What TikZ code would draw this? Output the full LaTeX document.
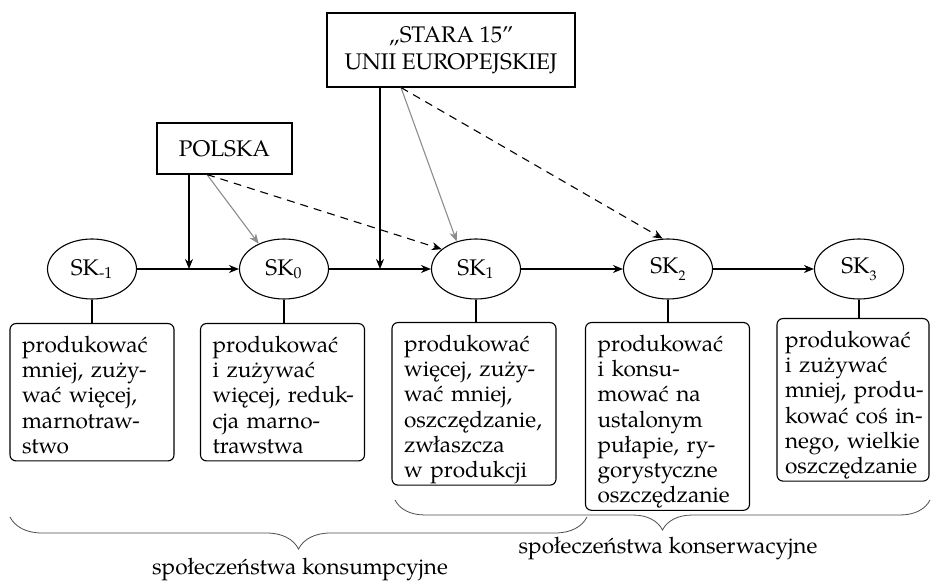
\documentclass[tikz,border=0pt]{standalone}
\usepackage{fontspec}
\setmainfont{texgyrepagella-regular.otf}
\usetikzlibrary{shapes.geometric,arrows.meta,decorations.pathreplacing}

\begin{document}
\begin{tikzpicture}[x=0.5pt,y=-0.5pt,line width=0.55pt]
   \tikzstyle{every node}=[font=\fontsize{11.3}{12.6}\selectfont]
   \tikzstyle{stage}=[draw, ellipse, minimum width=44.5pt, minimum height=30pt, inner sep=0pt]
   \tikzstyle{desc}=[draw, rounded corners=3pt, anchor=north, text width=70pt, inner xsep=6pt, inner ysep=0pt, align=left, execute at begin node=\rule{0pt}{14.5pt}, execute at end node=\strut]
   \tikzstyle{country}=[draw, rectangle, align=center, inner sep=0pt]
   \tikzstyle{flow}=[-{Stealth[length=5pt,width=4pt]}]
   \tikzstyle{weak}=[flow, black!45]
   \tikzstyle{future}=[flow, dash pattern=on 4pt off 3pt]
   \tikzstyle{group}=[decorate, decoration={brace, mirror, amplitude=16pt}, black!70, line width=0.4pt]

\useasboundingbox (0,0) rectangle (931,582);

\node[country, minimum width=67.5pt, minimum height=25.5pt] (polska) at (224.5,148.5) {POLSKA};
\node[country, minimum width=124pt, minimum height=37pt] (stara) at (451,50) {„STARA 15”\\[1pt] UNII EUROPEJSKIEJ};

\node[stage] (skm) at (92,269) {SK\textsubscript{-1}};
\node[stage] (sk0) at (284,269) {SK\textsubscript{0}};
\node[stage] (sk1) at (476,269) {SK\textsubscript{1}};
\node[stage] (sk2) at (668,269) {SK\raisebox{-.7ex}{\scriptsize 2}};
\node[stage] (sk3) at (859,269) {SK\raisebox{-.7ex}{\scriptsize 3}};

\node[desc] (dm) at (92,323) {produkować\\ \mbox{mniej, zuży-}\\ wać więcej,\\ \mbox{marnotraw-}\\ stwo};
\node[desc] (d0) at (282.5,323) {produkować\\ i zużywać\\ \mbox{więcej, reduk-}\\ \mbox{cja marno-}\\ trawstwa};
\node[desc] (d1) at (474,322) {produkować\\ \mbox{więcej, zuży-}\\ wać mniej,\\ \mbox{oszczędzanie,}\\ zwłaszcza\\ \mbox{w produkcji}};
\node[desc] (d2) at (667.5,322) {produkować\\ \mbox{i konsu-}\\ mować na\\ ustalonym\\ \mbox{pułapie, ry-}\\ gorystyczne\\ oszczędzanie};
\node[desc, text width=68pt, inner xsep=4pt] (d3) at (853,318) {produkować\\ i zużywać\\ \mbox{mniej, produ-}\\ \mbox{kować coś in-}\\ \mbox{nego, wielkie}\\ oszczędzanie};

\coordinate (j0) at (189,269);
\coordinate (j1) at (380,269);

\draw[flow] (skm) -- (sk0);
\draw[flow] (sk0) -- (sk1);
\draw[flow] (sk1) -- (sk2);
\draw[flow] (sk2) -- (sk3);

\draw (skm.south) -- (skm.south |- dm.north);
\draw (sk0.south) -- (sk0.south |- d0.north);
\draw (sk1.south) -- (sk1.south |- d1.north);
\draw (sk2.south) -- (sk2.south |- d2.north);
\draw (sk3.south) -- (sk3.south |- d3.north);

\draw[flow] (polska.south -| j0) -- (j0);
\draw[weak] ([xshift=-8.75pt]polska.south) -- (sk0.135);
\draw[future] ([xshift=-8.75pt]polska.south) -- (sk1.150);
\draw[flow] (stara.south -| j1) -- (j1);
\draw[weak] ([xshift=-25pt]stara.south) -- (sk1.125);
\draw[future] ([xshift=-25pt]stara.south) -- (sk2.100);

\draw[group] (10,517) -- (587,517);
\draw[group, decoration={amplitude=15pt}] (395,500) -- (930,500);
\node (konsump) at (300,569) {społeczeństwa konsumpcyjne};
\node (konserw) at (668,548) {społeczeństwa konserwacyjne};

\end{tikzpicture}
\end{document}
